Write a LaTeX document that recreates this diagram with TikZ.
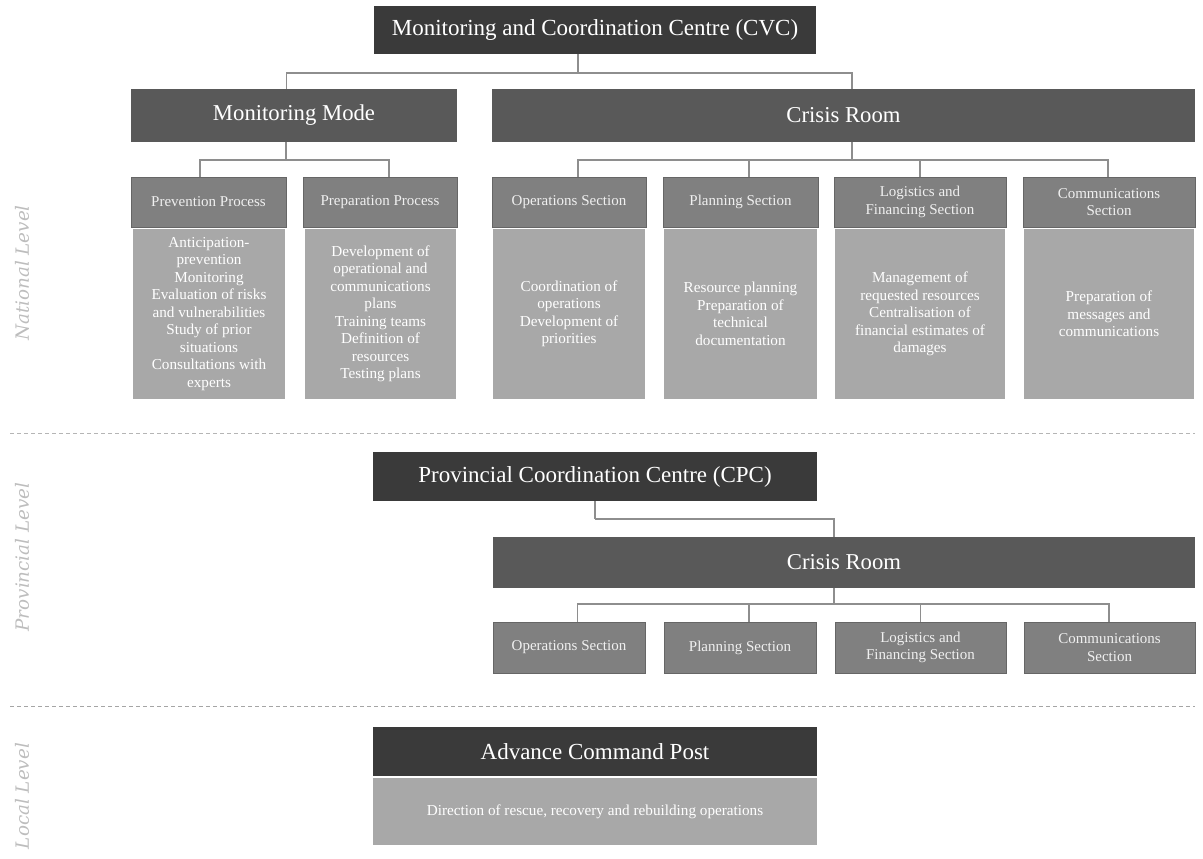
\documentclass[tikz,border=0pt]{standalone}
\usepackage{fontspec}
\setmainfont{Liberation Serif}
\newfontfamily\lvlfont{DejaVu Serif}
\usetikzlibrary{calc}
\definecolor{cA}{HTML}{3A3A3A}
\definecolor{cB}{HTML}{595959}
\definecolor{cC}{HTML}{808080}
\definecolor{cD}{HTML}{A8A8A8}
\definecolor{cL}{HTML}{8E8E8E}
\definecolor{cT}{HTML}{BDBDBD}
\definecolor{cDash}{HTML}{B5B5B5}
\tikzset{
  every node/.style={inner sep=0pt, outer sep=0pt, align=center, text=white},
  topbox/.style={fill=cA, font=\fontsize{23}{26}\selectfont},
  midbox/.style={fill=cB, font=\fontsize{22.7}{26}\selectfont},
  hdrbox/.style={fill=cC, draw=cC!80!black, line width=0.4pt, text=white!94!black, font=\fontsize{15}{17.5}\selectfont},
  bodybox/.style={fill=cD, font=\fontsize{15.2}{17.5}\selectfont},
  lowbody/.style={fill=cD, font=\fontsize{15.2}{17.5}\selectfont},
  conn/.style={draw=cL, line width=1.3pt},
  lvl/.style={text=cT, rotate=90, font=\lvlfont\itshape\fontsize{18.3}{22}\selectfont},
  sep/.style={draw=cDash, dashed, line width=1pt, dash pattern=on 4pt off 3pt}
}
% \bx{name}{x1}{y1}{x2}{y2}{style}{text}
\newcommand\bx[7]{\node[#6, minimum width={#4-#2}, minimum height={#5-#3}] (#1) at ({(#2+#4)/2},{(#3+#5)/2}) {#7};}
\begin{document}
\begin{tikzpicture}[x=1pt,y=-1pt]
\useasboundingbox (0,0) rectangle (1203,859);
% ---------- National ----------
\bx{cvc}{374}{6}{816}{54}{topbox}{Monitoring and Coordination Centre (CVC)}
\bx{mm}{131}{89}{457}{142}{midbox}{Monitoring Mode}
\bx{cr}{492}{89}{1195}{142}{midbox}{Crisis Room}
\bx{pv}{131}{177}{286}{227}{hdrbox}{Prevention Process}
\bx{pp}{303}{177}{457}{227}{hdrbox}{Preparation Process}
\bx{os}{492}{177}{646}{227}{hdrbox}{Operations Section}
\bx{ps}{663}{177}{818}{227}{hdrbox}{Planning Section}
\bx{ls}{834}{177}{1006}{227}{hdrbox}{Logistics and\\Financing Section}
\bx{cs}{1023}{177}{1195}{227}{hdrbox}{Communications\\Section}
\bx{pvb}{133}{229}{285}{399}{bodybox}{Anticipation-\\prevention\\Monitoring\\Evaluation of risks\\and vulnerabilities\\Study of prior\\situations\\Consultations with\\experts}
\bx{ppb}{305}{229}{456}{399}{bodybox}{Development of\\operational and\\communications\\plans\\Training teams\\Definition of\\resources\\Testing plans}
\bx{osb}{493}{229}{645}{399}{bodybox}{Coordination of\\operations\\Development of\\priorities}
\bx{psb}{664}{229}{817}{399}{bodybox}{Resource planning\\Preparation of\\technical\\documentation}
\bx{lsb}{835}{229}{1005}{399}{bodybox}{Management of\\requested resources\\Centralisation of\\financial estimates of\\damages}
\bx{csb}{1024}{229}{1194}{399}{bodybox}{Preparation of\\messages and\\communications}
% connectors national
\draw[conn] ([xshift=-17pt]cvc.south) -- ++(0,19) coordinate (j0);
\draw[conn] ([xshift=-7.5pt]mm.north) |- (j0) -| ([xshift=8.5pt]cr.north);
\draw[conn] ([xshift=-8pt]mm.south) -- ++(0,18) coordinate (j1);
\draw[conn] ([xshift=-8.5pt]pv.north) |- (j1) -| ([xshift=9pt]pp.north);
\draw[conn] ([xshift=8.5pt]cr.south) -- ++(0,18) coordinate (j2);
\draw[conn] ([xshift=9pt]os.north) |- (j2) -| ([xshift=-1pt]cs.north);
\draw[conn] ([xshift=8.5pt]ps.north) -- ([xshift=8.5pt]ps.north |- j2);
\draw[conn] (ls.north) -- (ls.north |- j2);
% separators
\draw[sep] (10,433) -- (1195,433);
\draw[sep, draw=cL!80] (10,706) -- (1195,706);
% ---------- Provincial ----------
\bx{cpc}{373}{452}{817}{501}{topbox}{Provincial Coordination Centre (CPC)}
\bx{pcr}{493}{537}{1195}{588}{midbox}{Crisis Room}
\bx{pos}{493}{622}{645}{673}{hdrbox}{Operations Section}
\bx{pps}{664}{622}{816}{673}{hdrbox}{Planning Section}
\bx{pls}{835}{622}{1006}{673}{hdrbox}{Logistics and\\Financing Section}
\bx{pcs}{1024}{622}{1195}{673}{hdrbox}{Communications\\Section}
\draw[conn] (cpc.south) -- ++(0,18) coordinate (j3);
\draw[conn] (j3) -| ([xshift=-10pt]pcr.north);
\draw[conn] ([xshift=-10pt]pcr.south) -- ++(0,16) coordinate (j4);
\draw[conn] ([xshift=8.5pt]pos.north) |- (j4) -| ([xshift=-0.5pt]pcs.north);
\draw[conn] ([xshift=9pt]pps.north) -- ([xshift=9pt]pps.north |- j4);
\draw[conn] (pls.north) -- (pls.north |- j4);
% ---------- Local ----------
\bx{acp}{373}{727}{817}{776}{topbox}{Advance Command Post}
\bx{acpb}{373}{778}{817}{845}{lowbody}{Direction of rescue, recovery and rebuilding operations}
% ---------- Level labels ----------
\node[lvl] (lvN) at (22,273) {National Level};
\node[lvl] (lvP) at (22,557) {Provincial Level};
\node[lvl] (lvL) at (22,796) {Local Level};
\end{tikzpicture}
\end{document}
